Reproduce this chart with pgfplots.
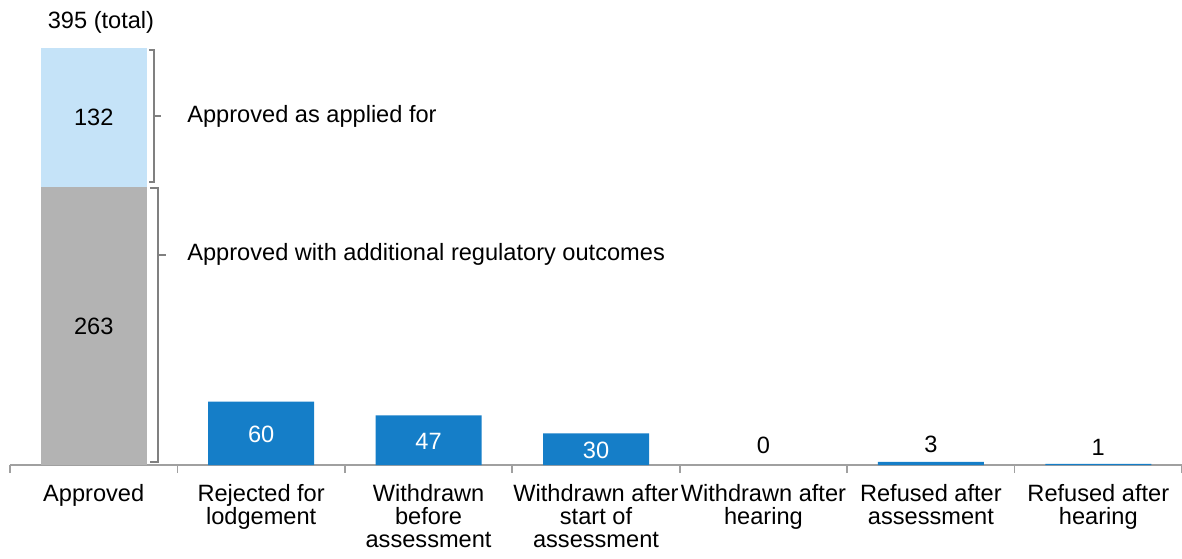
\documentclass[border=0pt]{standalone}
\usepackage{pgfplots}
\pgfplotsset{compat=1.18}
\usepackage{fontspec}
\setmainfont{Liberation Sans}
\definecolor{lblue}{RGB}{197,227,248}
\definecolor{dgray}{RGB}{179,179,179}
\definecolor{mblue}{RGB}{21,126,200}
\definecolor{axgray}{RGB}{160,160,160}
\definecolor{brgray}{RGB}{128,128,128}
\begin{document}
\begin{tikzpicture}[font=\fontsize{11.8}{11.5}\selectfont]
\begin{axis}[
  scale only axis, width=586pt, height=232.3pt,
  xmin=-0.5, xmax=6.5, ymin=0, ymax=440,
  ybar stacked, bar width=53pt,
  axis x line=bottom, axis y line=none,
  axis line style={axgray, line width=0.8pt, -},
  tick align=outside,
  xtick={0,...,6}, major tick length=0pt,
  xticklabels={Approved,{Rejected for\\lodgement},{Withdrawn\\before\\assessment},{Withdrawn after\\start of\\assessment},{Withdrawn after\\hearing},{Refused after\\assessment},{Refused after\\hearing}},
  xticklabel style={align=center, font=\fontsize{11.8}{11.5}\selectfont, yshift=-6pt},
  minor xtick={-0.5,0.5,1.5,2.5,3.5,4.5,5.5,6.5}, minor tick length=4pt,
  minor tick style={axgray, line width=0.8pt},
  clip=false,
]
\addplot[fill=dgray, draw=none] coordinates {(0,263) (1,0) (2,0) (3,0) (4,0) (5,0) (6,0)};
\addplot[fill=lblue, draw=none] coordinates {(0,132) (1,0) (2,0) (3,0) (4,0) (5,0) (6,0)};
\addplot[fill=mblue, draw=none] coordinates {(0,0) (1,60) (2,47) (3,30) (4,0) (5,3) (6,1)};
\coordinate (l132) at (axis cs:0,329);
\coordinate (l263) at (axis cs:0,131.5);
\coordinate (l60) at (axis cs:1,29);
\coordinate (l47) at (axis cs:2,22.5);
\coordinate (l30) at (axis cs:3,14);
\node at (axis cs:0.0435,418.7) {395 (total)};
\node at (axis cs:4,19) {0};
\node at (axis cs:5,20) {3};
\node at (axis cs:6,17) {1};
\draw[brgray, line width=0.75pt] (axis cs:0.33,393) -- (axis cs:0.36,393) -- (axis cs:0.36,268) -- (axis cs:0.33,268);
\draw[brgray, line width=0.75pt] (axis cs:0.36,330.6) -- (axis cs:0.40,330.6);
\draw[brgray, line width=0.75pt] (axis cs:0.336,262.4) -- (axis cs:0.384,262.4) -- (axis cs:0.384,2.8) -- (axis cs:0.336,2.8);
\draw[brgray, line width=0.75pt] (axis cs:0.384,198.9) -- (axis cs:0.432,198.9);
\node[anchor=west, inner sep=0pt] at (axis cs:0.557,330.6) {Approved as applied for};
\node[anchor=west, inner sep=0pt] at (axis cs:0.557,199.9) {Approved with additional regulatory outcomes};
\end{axis}
\node at (l132) {132};
\node at (l263) {263};
\node[white] at (l60) {60};
\node[white] at (l47) {47};
\node[white] at (l30) {30};
\pgfresetboundingbox
\path (current axis.south west) ++(-5pt,-46.5pt) rectangle ++(591pt,279pt);
\end{tikzpicture}
\end{document}
